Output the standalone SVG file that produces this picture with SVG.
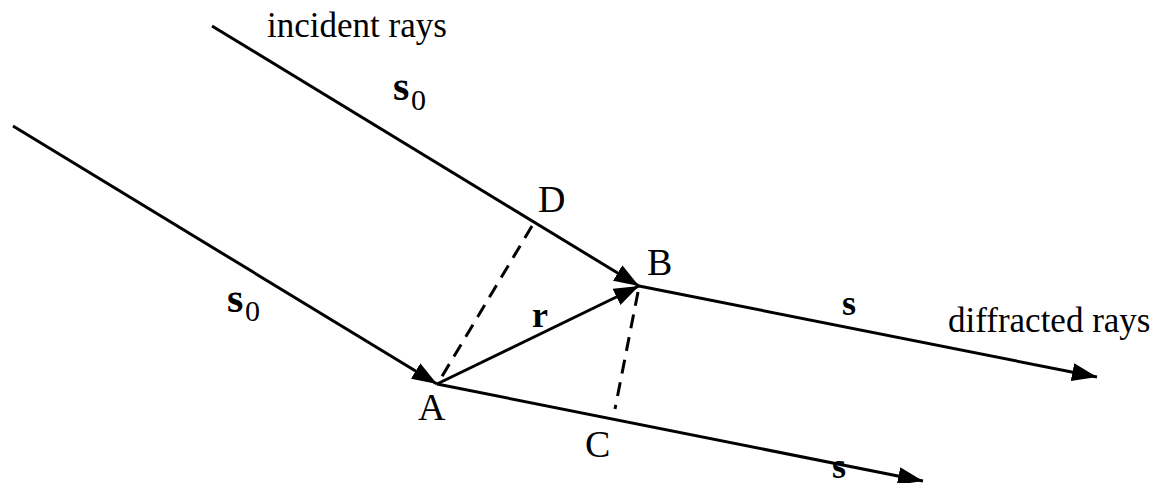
<svg xmlns="http://www.w3.org/2000/svg" width="1161" height="483" viewBox="0 0 1161 483">
<style>
.ln{stroke:#000;stroke-width:3;fill:none}
.ds{stroke:#000;stroke-width:3;fill:none;stroke-dasharray:14 9}
.t{font-family:"Liberation Serif","Times New Roman",serif;font-size:35px;fill:#000}
.lb{font-family:"Liberation Serif","Times New Roman",serif;font-size:38px;fill:#000}
.v{font-family:"Liberation Serif","Times New Roman",serif;font-size:36px;font-weight:bold;fill:#000}
.vs{font-family:"Liberation Serif","Times New Roman",serif;font-size:42px;font-weight:bold;fill:#000}
.sub{font-family:"Liberation Serif","Times New Roman",serif;font-size:30px;fill:#000}
</style>
<defs>
<marker id="ah" markerUnits="userSpaceOnUse" markerWidth="26" markerHeight="20" refX="25" refY="9" orient="auto">
<path d="M0,0 L25,9 L0,18 z" fill="#000"/>
</marker>
</defs>
<g id="connectors">
<line class="ln" x1="212" y1="26" x2="639" y2="286" marker-end="url(#ah)"/>
<line class="ln" x1="13" y1="126" x2="437" y2="384" marker-end="url(#ah)"/>
<line class="ln" x1="437" y1="384" x2="639" y2="286" marker-end="url(#ah)"/>
<line class="ln" x1="639" y1="286" x2="1097" y2="377" marker-end="url(#ah)"/>
<line class="ln" x1="437" y1="384" x2="923" y2="481" marker-end="url(#ah)"/>
<line class="ds" x1="532" y1="226" x2="441" y2="378"/>
<line class="ds" x1="638" y1="292" x2="615" y2="409"/>
</g>
<g id="incident-label"><text class="t" x="267" y="37">incident rays</text></g>
<g id="diffracted-label"><text class="t" x="948" y="332">diffracted rays</text></g>
<g id="D"><text class="lb" x="538" y="212">D</text></g>
<g id="B"><text class="lb" x="647" y="275">B</text></g>
<g id="A"><text class="lb" x="418" y="420">A</text></g>
<g id="C"><text class="lb" x="585" y="457">C</text></g>
<g id="r"><text class="v" x="532" y="327">r</text></g>
<g id="s0-upper"><text class="vs" x="393" y="100">s</text><text class="sub" x="411" y="110">0</text></g>
<g id="s0-lower"><text class="vs" x="227" y="312">s</text><text class="sub" x="245" y="321">0</text></g>
<g id="s-upper"><text class="v" x="842" y="315">s</text></g>
<g id="s-lower"><text class="v" x="832" y="478">s</text></g>
</svg>
